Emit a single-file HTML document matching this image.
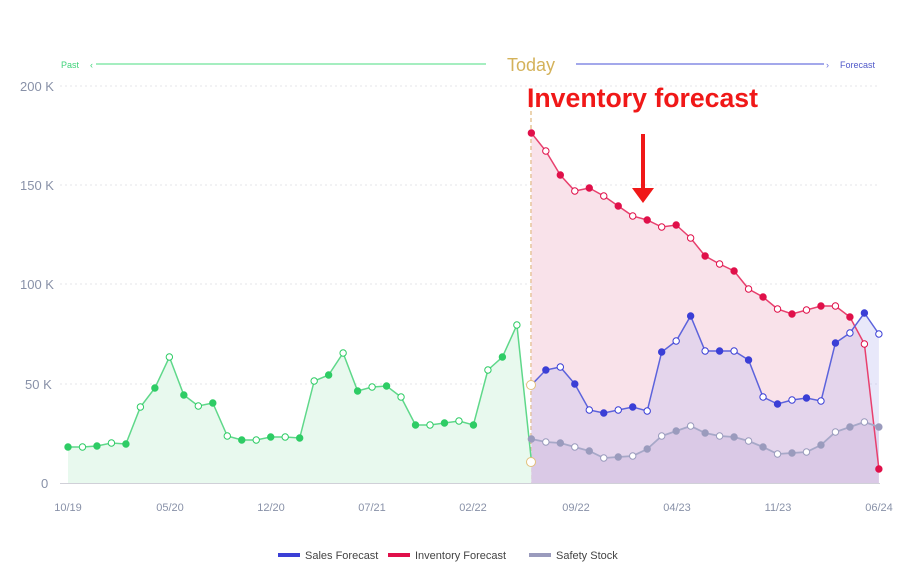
<!DOCTYPE html><html><head><meta charset="utf-8"><style>body{margin:0;background:#fff}svg{display:block;font-family:"Liberation Sans",sans-serif}</style></head><body>
<svg id="s" width="915" height="584" xmlns="http://www.w3.org/2000/svg">
<g stroke="#e4e4ea" stroke-dasharray="2,3"><line x1="60" x2="880" y1="86" y2="86"/><line x1="60" x2="880" y1="185" y2="185"/><line x1="60" x2="880" y1="284" y2="284"/><line x1="60" x2="880" y1="384" y2="384"/></g>
<g fill="#8891a8" font-size="13"><text x="20" y="91">200 K</text><text x="20" y="190">150 K</text><text x="20" y="289">100 K</text><text x="25" y="389">50 K</text><text x="41" y="488">0</text></g>
<g fill="#8891a8" font-size="11" text-anchor="middle"><text x="68" y="511">10/19</text><text x="170" y="511">05/20</text><text x="271" y="511">12/20</text><text x="372" y="511">07/21</text><text x="473" y="511">02/22</text><text x="576" y="511">09/22</text><text x="677" y="511">04/23</text><text x="778" y="511">11/23</text><text x="879" y="511">06/24</text></g>
<text x="61" y="68" font-size="9" fill="#3fd37a">Past</text><text x="90" y="68" font-size="9" fill="#3fd37a">‹</text>
<line x1="96" x2="486" y1="64" y2="64" stroke="#6fe39a" stroke-width="1.2"/>
<text x="531" y="71" font-size="18" fill="#d4b25a" text-anchor="middle">Today</text>
<line x1="576" x2="824" y1="64" y2="64" stroke="#6c73df" stroke-width="1.2"/>
<text x="826" y="68" font-size="9" fill="#6c73df">›</text><text x="840" y="68" font-size="9" fill="#5059c9">Forecast</text>
<line x1="531" x2="531" y1="90" y2="483" stroke="#d9a860" stroke-dasharray="4,3"/>
<text x="527" y="107" font-size="27" font-weight="bold" fill="#f01818" textLength="231" lengthAdjust="spacingAndGlyphs">Inventory forecast</text>
<line x1="643" x2="643" y1="134" y2="193" stroke="#f01818" stroke-width="4"/>
<path d="M632,188 L643,203 L654,188 Z" fill="#f01818"/>
<line x1="60" x2="880" y1="483.5" y2="483.5" stroke="#d0d0d8"/>
<g id="d"></g>
<g font-size="11" fill="#444"><rect x="278" y="553" width="22" height="4" fill="#3b3fd6"/><text x="305" y="559">Sales Forecast</text><rect x="388" y="553" width="22" height="4" fill="#e0104a"/><text x="415" y="559">Inventory Forecast</text><rect x="529" y="553" width="22" height="4" fill="#9a9bbd"/><text x="556" y="559">Safety Stock</text></g>
</svg>
<script>
const G=[447,447,446,443,444,407,388,357,395,406,403,436,440,440,437,437,438,381,375,353,391,387,386,397,425,425,423,421,425,370,357,325,461];
const R=[133,151,175,191,188,196,206,216,220,227,225,238,256,264,271,289,297,309,314,310,306,306,317,344,469];
const B=[385,370,367,384,410,413,410,407,411,352,341,316,351,351,351,360,397,404,400,398,401,343,333,313,334];
const S=[439,442,443,447,451,458,457,456,449,436,431,426,433,436,437,441,447,454,453,452,445,432,427,422,427];
const X=i=>68+i*14.48;
let h='';
function area(a,o,fill){let p=a.map((y,i)=>X(i+o).toFixed(1)+','+y).join(' L');return `<path d="M${X(o)},483 L${p} L${X(o+a.length-1)},483 Z" fill="${fill}"/>`}
function line(a,o,c,sw){let p=a.map((y,i)=>X(i+o).toFixed(1)+','+y).join(' L');return `<path d="M${p}" fill="none" stroke="${c}" stroke-width="${sw}"/>`}
function pts(a,o,c,start){return a.map((y,i)=>{let f=(i+start)%2==0;return `<circle cx="${X(i+o)}" cy="${y}" r="3.2" fill="${f?c:'#fff'}" stroke="${c}" stroke-width="1"/>`}).join('')}
h+=area(G,0,'#e8f9ee');
h+=area(R,32,'#f9e2ea');
h+=area(B,32,'rgba(190,190,240,0.35)');
h+=area(S,32,'rgba(200,180,220,0.35)');
h+=line(G,0,'#5fd88a',1.5)+line(R,32,'#e8406e',1.5)+line(B,32,'#5c63dc',1.5)+line(S,32,'#a7a8c8',1.8);
h+=pts(G,0,'#2ecc65',0)+pts(R,32,'#e0104a',0)+pts(B,32,'#3b3fd6',1)+pts(S,32,'#9a9bbd',0);
h+=`<circle cx="531" cy="385" r="4.5" fill="#fff" stroke="#e3c07a"/><circle cx="531" cy="462" r="4.5" fill="#fff" stroke="#e3c07a"/>`;
document.getElementById('d').innerHTML=h;
</script></body></html>
